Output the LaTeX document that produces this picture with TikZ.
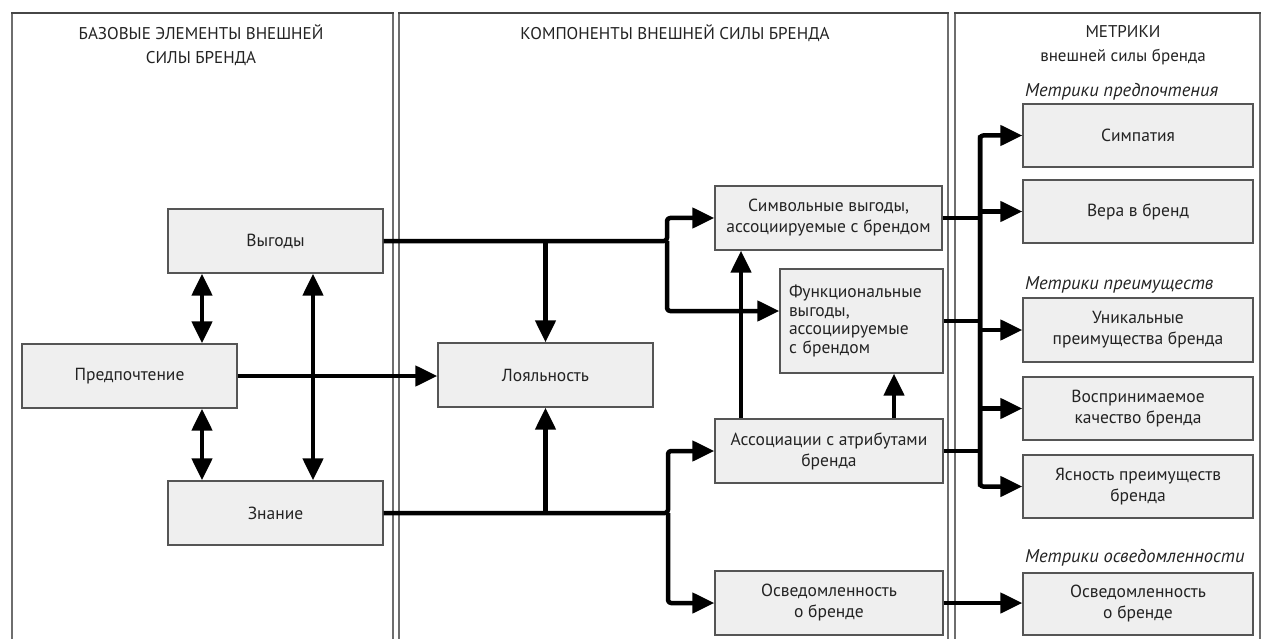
\documentclass[tikz,border=0pt]{standalone}
\usepackage{fontspec}
\setmainfont{PT Sans}
\usetikzlibrary{arrows.meta,calc}
\definecolor{txt}{RGB}{35,35,35}
\definecolor{boxfill}{RGB}{239,239,239}
\definecolor{boxline}{RGB}{85,85,85}
\definecolor{panelside}{RGB}{110,110,110}
\definecolor{paneltop}{RGB}{70,70,70}
\begin{document}
\begin{tikzpicture}[x=1pt,y=-1pt,
  gbox/.style={draw=boxline, fill=boxfill, line width=1.3pt, text=txt, align=center, inner sep=2pt, font=\fontsize{17.5}{21}\selectfont},
  conn/.style={line width=4.5pt, draw=black, line join=round},
  arr/.style={conn, -{Triangle[length=22pt,width=20pt]}},
  darr/.style={conn, {Triangle[length=22pt,width=20pt]}-{Triangle[length=22pt,width=20pt]}},
  pside/.style={draw=panelside, line width=2.6pt},
  ptop/.style={draw=paneltop, line width=1.4pt},
  hdr/.style={text=txt, align=center, font=\fontsize{17}{24}\selectfont},
  subhdr/.style={text=txt, anchor=west, inner sep=0pt, font=\itshape\fontsize{18.5}{20}\selectfont}
]
\useasboundingbox (0,0) rectangle (1266,639);
\fill[white] (0,0) rectangle (1266,639);

% panels
\draw[pside] (12,645) -- (12,13);
\draw[pside] (393,645) -- (393,13);
\draw[ptop] (11,13) -- (394,13);
\draw[pside] (399,645) -- (399,13);
\draw[pside] (948,645) -- (948,13);
\draw[ptop] (398,13) -- (949,13);
\draw[pside] (955,645) -- (955,13);
\draw[pside] (1260,645) -- (1260,13);
\draw[ptop] (954,13) -- (1261,13);

% headers
\node[hdr] (h1) at (201,45) {БАЗОВЫЕ ЭЛЕМЕНТЫ ВНЕШНЕЙ\\СИЛЫ БРЕНДА};
\node[hdr] (h2) at (675,33) {КОМПОНЕНТЫ ВНЕШНЕЙ СИЛЫ БРЕНДА};
\node[hdr] (h3) at (1123,45) {МЕТРИКИ\\внешней силы бренда};
\node[subhdr] (s1) at (1025,92) {Метрики предпочтения};
\node[subhdr] (s2) at (1025,285) {Метрики преимуществ};
\node[subhdr] (s3) at (1025,558) {Метрики осведомленности};

% left boxes
\node[gbox, minimum width=215pt, minimum height=64pt] (vyg) at (275.5,241) {Выгоды};
\node[gbox, minimum width=215pt, minimum height=64pt] (pref) at (129.5,376) {Предпочтение};
\node[gbox, minimum width=215pt, minimum height=64pt] (zn) at (275.5,513) {Знание};

% middle boxes
\node[gbox, minimum width=215pt, minimum height=64pt] (loy) at (545.5,375) {Лояльность};
\node[gbox, minimum width=227pt, minimum height=64pt] (sym) at (828.5,218) {Символьные выгоды,\\ассоциируемые с брендом};
\node[gbox, minimum height=104pt, inner xsep=9pt, text width=145pt, align=left, font=\fontsize{17.5}{18.5}\selectfont] (fun) at (861.5,321) {Функциональные\\выгоды,\\ассоциируемые\\с брендом};
\node[gbox, minimum width=228pt, minimum height=64pt] (assoc) at (829,451) {Ассоциации с атрибутами\\бренда};
\node[gbox, minimum width=228pt, minimum height=64pt] (osv) at (829,603) {Осведомленность\\о бренде};

% right boxes
\node[gbox, minimum width=230pt, minimum height=63pt] (simp) at (1138,135.5) {Симпатия};
\node[gbox, minimum width=230pt, minimum height=63pt] (vera) at (1138,211.5) {Вера в бренд};
\node[gbox, minimum width=230pt, minimum height=64pt] (unik) at (1138,330) {Уникальные\\преимущества бренда};
\node[gbox, minimum width=230pt, minimum height=63pt] (vosp) at (1138,408.5) {Воспринимаемое\\качество бренда};
\node[gbox, minimum width=230pt, minimum height=63pt] (yasn) at (1138,486.5) {Ясность преимуществ\\бренда};
\node[gbox, minimum width=230pt, minimum height=62pt] (osv2) at (1138,604) {Осведомленность\\о бренде};

% helper coordinates
\coordinate (xa) at (202,0);
\coordinate (xb) at (313,0);
\coordinate (jv) at (667,241);
\coordinate (jz) at (668,513);
\coordinate (xc) at (741,0);
\coordinate (xd) at (894,0);
\coordinate (xr) at (980,0);
\coordinate (funin) at ($(fun.west)+(0,-10)$);

% left connectors
\draw[darr] (vyg.south -| xa) -- (pref.north -| xa);
\draw[darr] (pref.south -| xa) -- (zn.north -| xa);
\draw[darr] (vyg.south -| xb) -- (zn.north -| xb);
\draw[arr] (pref.east) -- (pref.east -| loy.west);

% benefits bus
\draw[arr, rounded corners=3pt] (vyg.east) -- (jv) |- (sym.west);
\draw[arr, rounded corners=3pt] (jv) |- (funin);
\draw[arr] (vyg.east -| loy.north) -- (loy.north);

% knowledge bus
\draw[arr, rounded corners=3pt] (zn.east) -- (jz) |- (assoc.west);
\draw[arr, rounded corners=3pt] (jz) |- (osv.west);
\draw[arr] (zn.east -| loy.south) -- (loy.south);

% associations upward
\draw[arr] (assoc.north -| xc) -- (sym.south -| xc);
\draw[arr] (assoc.north -| xd) -- (fun.south -| xd);

% right bus
\draw[conn] (sym.east) -- (sym.east -| xr);
\draw[conn] (fun.east) -- (fun.east -| xr);
\draw[conn] (assoc.east) -- (assoc.east -| xr);
\draw[arr, rounded corners=3pt] (yasn.west -| xr) |- (simp.west);
\draw[arr, rounded corners=3pt] (simp.west -| xr) |- (yasn.west);
\draw[arr] (vera.west -| xr) -- (vera.west);
\draw[arr] (unik.west -| xr) -- (unik.west);
\draw[arr] (vosp.west -| xr) -- (vosp.west);
\draw[arr] (osv.east) -- (osv.east -| osv2.west);
\end{tikzpicture}
\end{document}
